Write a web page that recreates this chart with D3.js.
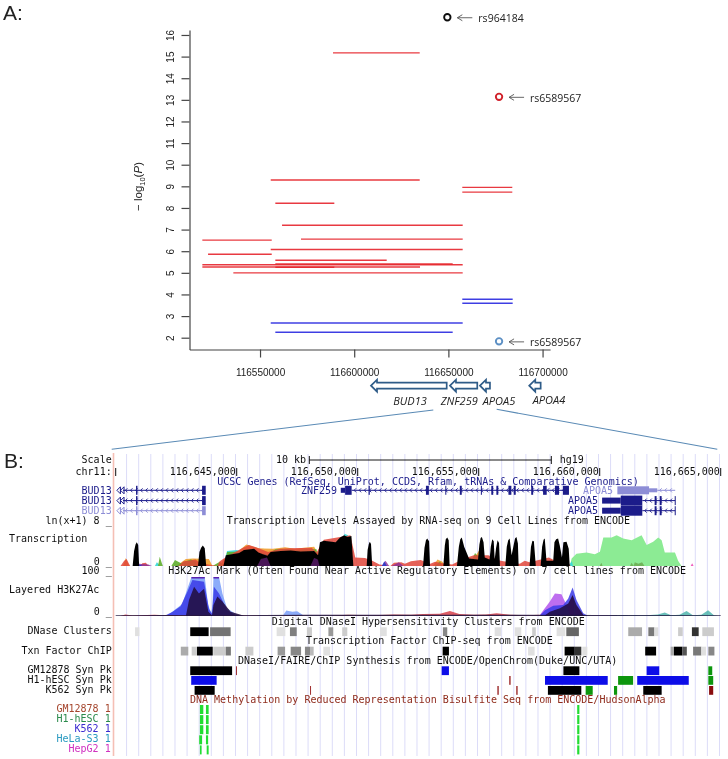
<!doctype html>
<html lang="en">
<head>
<meta charset="utf-8">
<title>rs964184 regional association and ENCODE tracks</title>
<style>
    html, body { margin: 0; background: #fff; }
    svg { display: block; }
    .ucsc text, text.ucsc { font-family: "DejaVu Sans Mono", monospace; font-size: 10px; }
    .note { font-family: "Open Sans", sans-serif; font-size: 10.5px; fill: #222; }
    .axisA text { font-family: "Liberation Sans", sans-serif; font-size: 10px; fill: #222; }
    .axisA path, .axisA line { stroke: #444; stroke-width: 1.2; }
</style>
</head>
<body>
<svg id="chart" width="728" height="759"></svg>
<script src="https://cdn.jsdelivr.net/npm/d3@7"></script>
<script>
// ---- panel A: conditional association segments [start, end, -log10 P]
const redSegments = [
    [116588750, 116634770, 15.17], [116555680, 116634770, 9.29], [116558120, 116589440, 8.22],
    [116657380, 116683920, 8.95], [116657380, 116683920, 8.73], [116561680, 116657590, 7.2],
    [116519370, 116556210, 6.51], [116571760, 116657590, 6.56], [116555680, 116657590, 6.08],
    [116522400, 116556210, 5.86], [116558120, 116617250, 5.58], [116558120, 116652280, 5.41],
    [116519370, 116657590, 5.37], [116519370, 116634930, 5.27], [116558120, 116589440, 5.26],
    [116535830, 116657590, 5.0]
];
const blueSegments = [
    [116657380, 116684130, 3.78], [116657380, 116684130, 3.59],
    [116555680, 116657590, 2.68], [116558120, 116652280, 2.25]
];
const snpNames = ["rs964184", "rs6589567", "rs6589567"];
const snpPos = [116649440, 116676900, 116676900];
const snpLogP = [16.82, 13.14, 1.83];
const snpKind = ["lead", "red", "blue"];
const logPTicks = [2, 3, 4, 5, 6, 7, 8, 9, 10, 11, 12, 13, 14, 15, 16];
const posTicksA = [116550000, 116600000, 116650000, 116700000];
const geneNames = ["BUD13", "ZNF259", "APOA5", "APOA4"];
const geneStart = [116608920, 116650850, 116666780, 116692940];
const geneEnd = [116649100, 116665340, 116672080, 116698990];
const geneLabelPos = [116629620, 116655790, 116676860, 116703400];
const zoomFrom = [116641990, 116675640];

// ---- panel B: everything below is in kb past chr11:116,640,000
const browserTicks = [5, 10, 15, 20, 25];

// genes [start, end] in kb
const bud13Exons = [[0.84, 0.9], [3.57, 3.72]];
const znfUtr = [9.3, 9.48];
const znfCds = [9.48, 9.75];
const znfExons = [[10.45, 10.5], [12.82, 12.94], [13.62, 13.66], [14.22, 14.3], [15.09, 15.13], [15.52, 15.6],
    [15.73, 15.81], [16.23, 16.35], [16.45, 16.53], [17.17, 17.25], [17.66, 17.81], [18.15, 18.32], [18.48, 18.73]];
const apoaUtr = [20.1, 20.87];
const apoaCds = [20.87, 21.76];
const apoaExons = [[22.27, 22.35], [22.48, 22.56], [23.1, 23.14]];
const apoaPaleThick = [20.73, 22.04];
const apoaPaleMid = [22.04, 22.38];

// RNA-seq signal [kb, ln(x+1)]
const txBlack = [[0.7, 0], [0.76, 2.8], [0.82, 4.0], [0.87, 4.4], [0.93, 3.9], [0.97, 0], [3.4, 0], [3.46, 2.6], [3.53, 3.4], [3.6, 3.8], [3.68, 3.3], [3.74, 0],
    [4.45, 0], [4.55, 2.0], [5.1, 2.4], [5.3, 3.0], [5.72, 3.2], [5.9, 2.5], [6.27, 1.9], [6.4, 2.6], [6.82, 2.8], [7.23, 2.9], [7.64, 2.7], [8.2, 2.8], [8.36, 2.0],
    [8.44, 4.4], [8.6, 4.7], [9.09, 4.4], [9.27, 5.3], [9.44, 5.7], [9.57, 5.4], [9.74, 5.6], [9.82, 0],
    [10.37, 0], [10.41, 3.0], [10.46, 4.1], [10.5, 4.5], [10.55, 4.1], [10.6, 0],
    [12.7, 0], [12.76, 3.4], [12.82, 4.8], [12.87, 5.1], [12.95, 4.6], [12.99, 0], [13.54, 0], [13.6, 3.8], [13.64, 5.0], [13.7, 5.3], [13.76, 4.8], [13.8, 0],
    [14.1, 0], [14.18, 3.6], [14.24, 5.0], [14.3, 5.3], [14.4, 3.6], [14.6, 1.4], [14.97, 1.2], [15.03, 4.0], [15.08, 5.2], [15.13, 5.4], [15.2, 4.4], [15.25, 1.6],
    [15.45, 1.2], [15.5, 3.6], [15.56, 5.0], [15.62, 4.6], [15.66, 1.2], [15.72, 3.4], [15.78, 4.8], [15.84, 4.3], [15.88, 0],
    [16.1, 0], [16.16, 3.6], [16.22, 4.8], [16.28, 5.1], [16.36, 2.0], [16.44, 3.8], [16.5, 5.1], [16.56, 5.4], [16.62, 4.2], [16.65, 0],
    [17.1, 0], [17.16, 3.6], [17.22, 4.7], [17.28, 4.6], [17.36, 0], [17.56, 0], [17.62, 3.6], [17.68, 4.9], [17.73, 5.1], [17.8, 1.0], [18.08, 1.0], [18.13, 4.4], [18.2, 5.0], [18.28, 5.1], [18.35, 3.8],
    [18.44, 1.6], [18.5, 4.4], [18.63, 4.5], [18.72, 3.2], [18.76, 0]];
const txRed = [[0.2, 0], [0.35, 1.0], [0.45, 1.3], [0.55, 0.4], [0.6, 0], [1.0, 0], [1.1, 0.5], [1.25, 0.6], [1.3, 0.3], [1.4, 0],
    [2.6, 0], [2.8, 0.9], [3.0, 1.0], [3.3, 1.2], [3.5, 0.5], [4.2, 0], [4.3, 0.9], [4.5, 1.5], [4.9, 2.5], [5.3, 3.5], [5.5, 3.9], [5.8, 3.5], [6.3, 2.6], [6.8, 3.2],
    [7.2, 3.3], [8.1, 3.4], [8.3, 2.5], [8.6, 4.9], [9.7, 5.7], [9.9, 1.6], [10.3, 1.5], [10.6, 1.0], [10.9, 0.3], [11.35, 0], [11.5, 0.6], [11.8, 0.7], [11.95, 0.4],
    [12.2, 0.9], [12.6, 1.1], [13.0, 0.4], [13.2, 0.8], [13.5, 0.5], [13.9, 0.3], [14.4, 1.4], [14.8, 2.0], [15.4, 2.0], [15.9, 1], [16.7, 0.4], [16.9, 1.0], [17.1, 0.7],
    [17.9, 1.6], [18.1, 1.1], [18.76, 0.3], [18.8, 0]];
const txOrange = [[0.3, 0], [0.42, 1.5], [0.55, 0], [2.5, 0], [2.9, 1.3], [3.2, 1.4], [3.85, 1.3], [4.0, 0], [4.3, 0], [4.45, 1.2], [5.0, 2.5], [5.4, 4.0], [5.9, 3.3],
    [6.5, 3.2], [7.0, 3.5], [7.4, 3.2], [8.2, 3.6], [8.4, 2], [8.5, 0], [13.1, 0], [13.3, 1.2], [13.5, 0.8], [13.6, 0], [14.6, 0], [15.0, 2.8], [15.2, 2.2], [15.4, 0],
    [17.85, 0], [18.0, 1.4], [18.1, 0]];
const txGreen = [[1.75, 0], [1.82, 1.7], [1.9, 0.6], [1.95, 0], [2.3, 0], [2.45, 1.1], [2.7, 0.5], [3.1, 1.2], [3.3, 0.9], [3.4, 0], [4.0, 0], [4.3, 0.8], [4.5, 0],
    [4.6, 2.6], [5.2, 2.7], [6.3, 2.2], [6.6, 3.1], [7.1, 3.1], [7.4, 3.0], [7.9, 3.1], [8.3, 3.1], [8.4, 0], [13.2, 0], [13.4, 0.9], [13.5, 0], [14.6, 0], [14.85, 2.4], [15.0, 1.6], [15.1, 0]];
const txCyan = [[1.62, 0], [1.7, 0.7], [1.8, 0.3], [1.85, 0], [4.45, 0], [4.6, 2.8], [5.0, 3.0], [5.2, 2.7], [5.3, 0], [9.2, 0], [9.45, 6.0], [9.6, 5.7], [9.75, 0], [18.7, 0], [18.85, 0.9], [18.9, 0]];
const txBlue = [[0.9, 0], [1.0, 0.3], [1.1, 0], [6.0, 0], [6.2, 2.2], [6.4, 0], [11.0, 0], [11.1, 0.9], [11.2, 0], [12.7, 0], [12.74, 0.5], [12.85, 0]];
const txPurple = [[0.75, 0], [0.95, 0.4], [1.35, 0.3], [1.5, 0], [6.9, 0], [7.1, 1.5], [7.7, 2], [8.2, 1.5], [8.4, 0], [11.0, 0], [11.15, 1.0], [11.3, 0], [11.4, 0], [11.7, 0.7], [11.9, 0]];
const txStreaks = [[5.85, 0], [6.0, 1.3], [6.25, 1.6], [6.4, 0], [8.05, 0], [8.2, 1.5], [8.35, 1.2], [8.42, 0]];
const txMint = [[18.77, 0], [18.84, 1.4], [19.04, 2.3], [19.46, 2.5], [19.8, 2.2], [20.01, 2.65], [20.15, 5.3], [20.49, 5.3], [20.7, 5.7], [20.97, 5.1], [21.32, 4.8],
    [21.73, 5.7], [21.94, 3.9], [22.21, 4.5], [22.42, 5.3], [22.56, 4.8], [22.69, 2.5], [23.11, 2.5], [23.24, 1.0], [23.38, 0]];
const txMintDark = [[20.0, 0], [20.07, 0.6], [20.12, 0], [21.25, 0], [21.32, 0.6], [21.4, 0], [21.45, 0.7], [21.6, 0.4], [21.75, 0.7], [21.85, 0]];
const txPink = [[23.76, 0], [23.82, 0.5], [23.88, 0]];

// H3K27Ac signal [kb, value], clipped at 100
const h3Light = [[2.1, 0], [2.27, 8], [2.75, 31], [2.99, 75], [3.13, 120], [3.68, 120], [3.82, 28], [3.95, 8], [4.0, 30], [4.04, 120], [4.27, 120], [4.41, 58], [4.6, 20], [4.96, 5], [5.2, 0],
    [6.9, 0], [7.05, 14], [7.3, 11], [7.5, 12], [7.8, 0]];
const h3Blue = [[2.0, 0], [2.34, 10], [2.68, 25], [2.96, 62], [3.17, 92], [3.65, 88], [3.86, 17], [3.98, 6], [4.06, 75], [4.27, 58], [4.6, 15], [5.0, 0],
    [17.5, 0], [17.74, 15], [18.08, 26], [18.49, 28], [18.7, 45], [18.88, 73], [19.04, 41], [19.32, 7], [19.53, 0]];
const h3Purple = [[17.5, 0], [17.67, 15], [17.94, 37], [18.15, 58], [18.42, 56], [18.63, 28], [18.77, 3], [18.85, 0]];
const h3Dark = [[2.9, 0], [3.03, 41], [3.24, 75], [3.44, 58], [3.65, 70], [3.83, 11], [3.98, 2], [4.04, 28], [4.2, 50], [4.41, 37], [4.75, 11], [5.17, 3], [5.3, 0],
    [17.7, 0], [17.94, 11], [18.36, 20], [18.7, 32], [18.88, 54], [19.04, 28], [19.32, 3], [19.4, 0]];
const h3Red = [[0.2, 0], [0.4, 4], [0.7, 1], [1.6, 3], [2.0, 2], [8.9, 1], [9.6, 3], [10.6, 2], [11.5, 4], [12.2, 3], [12.7, 5], [13.4, 6], [13.81, 13], [14.2, 5], [14.8, 3], [15.3, 4], [15.74, 7], [16.3, 3], [17.0, 2], [17.5, 3], [17.6, 0]];
const h3Bumps = [[20.2, 0], [21.0, 2], [21.8, 1], [22.4, 4], [22.69, 9], [22.95, 2], [23.3, 3], [23.59, 13], [23.85, 2], [24.2, 3], [24.48, 15], [24.72, 2], [24.9, 0]];
const h3Base = [[0, 2], [2, 2.5], [4, 2], [8, 3], [12, 3], [16, 3], [20, 2.5], [25, 2]];
const h3Clipped = [[3.13, 3.68], [4.04, 4.27]];

// density tracks [start, end, score 0..1]
const dnaseClusters = [[0.8, 0.98, 0.12], [3.08, 3.84, 1], [3.9, 4.75, 0.55], [6.65, 7.01, 0.12], [7.2, 7.48, 0.5], [7.9, 8.11, 0.2], [8.79, 8.99, 0.4], [9.36, 9.57, 0.2],
    [10.92, 11.2, 0.12], [13.52, 13.7, 0.47], [15.66, 15.93, 0.12], [16.49, 16.76, 0.12], [17.21, 17.36, 0.2], [18.22, 18.58, 0.12], [18.62, 19.14, 0.6],
    [21.18, 21.75, 0.33], [22.01, 22.26, 0.53], [22.26, 22.42, 0.13], [23.24, 23.43, 0.2], [23.81, 24.09, 0.8], [24.24, 24.72, 0.2]];
const tfClusters = [[2.69, 3.0, 0.33], [3.14, 3.36, 0.2], [3.36, 4.01, 1], [4.03, 4.55, 0.2], [4.55, 4.76, 0.53], [5.36, 5.69, 0.2], [6.69, 7.0, 0.4], [7.23, 7.66, 0.47],
    [7.82, 8.03, 0.47], [8.03, 8.18, 0.27], [8.58, 8.86, 0.12], [13.51, 13.77, 1], [17.04, 17.31, 0.12], [18.55, 18.97, 1], [18.97, 19.24, 0.8], [19.28, 19.49, 0.12],
    [21.88, 22.33, 1], [22.93, 23.07, 0.33], [23.07, 23.41, 1], [23.41, 23.6, 0.67], [23.86, 24.2, 0.53], [24.2, 24.39, 0.12], [24.49, 24.74, 0.47]];

// synthesis peaks [start, end, kind]
const synGM12878 = [[3.08, 4.81, "open"], [4.97, 5.01, "chip"], [13.47, 13.77, "dnase"], [18.5, 19.16, "open"], [21.94, 22.46, "dnase"], [24.49, 24.65, "faire"]];
const synH1 = [[3.12, 4.17, "dnase"], [16.26, 16.32, "chip"], [17.74, 20.33, "dnase"], [20.76, 21.38, "faire"], [21.55, 23.68, "dnase"], [24.49, 24.69, "faire"]];
const synK562 = [[3.26, 4.09, "open"], [8.03, 8.07, "chip"], [15.77, 15.83, "chip"], [16.55, 16.61, "chip"], [17.86, 19.24, "open"], [19.42, 19.71, "faire"], [20.59, 20.72, "faire"],
    [21.8, 22.56, "open"], [24.52, 24.69, "chipDark"]];

// methylated CpG [start, end] per cell line
const methLines = ["GM12878", "H1-hESC", "K562", "HeLa-S3", "HepG2"];
const methSites = [
    [[3.48, 3.62], [3.73, 3.84], [19.07, 19.16]],
    [[3.48, 3.62], [3.73, 3.84], [19.07, 19.16]],
    [[3.48, 3.62], [3.73, 3.84], [19.07, 19.16]],
    [[3.45, 3.57], [3.73, 3.82], [19.07, 19.16]],
    [[3.48, 3.55], [3.76, 3.84], [19.07, 19.16]]
];

// ---- set up
const svg = d3.select("#chart");
const defs = svg.append("defs");
defs.append("filter").attr("id", "soft")
    .attr("filterUnits", "userSpaceOnUse")
    .attr("x", 0).attr("y", 0).attr("width", 728).attr("height", 759)
    .append("feGaussianBlur").attr("stdDeviation", 0.4);

const root = svg.append("g").attr("filter", "url(#soft)");

root.append("text").attr("x", 3).attr("y", 20).attr("font-family", "Liberation Sans").attr("font-size", 21).attr("fill", "#222").text("A:");
root.append("text").attr("x", 4).attr("y", 468).attr("font-family", "Liberation Sans").attr("font-size", 21).attr("fill", "#222").text("B:");

// ---- panel A
const xA = d3.scaleLinear().domain([116512500, 116704000]).range([189.4, 550.1]);
const yA = d3.scaleLinear().domain([1.454, 16.23]).range([349.5, 30]);

const axisX = root.append("g").attr("class", "axisA").attr("transform", "translate(0,349.5)")
    .call(d3.axisBottom(xA).tickValues(posTicksA).tickFormat(d3.format("d")).tickSize(8).tickSizeOuter(0).tickPadding(11));
axisX.selectAll("text").attr("dy", "0.71em");

const axisY = root.append("g").attr("class", "axisA").attr("transform", "translate(189.5,0)")
    .call(d3.axisLeft(yA).tickValues(logPTicks).tickFormat(d3.format("d")).tickSize(8).tickSizeOuter(0));
axisY.selectAll("text")
    .attr("transform", "rotate(-90)")
    .attr("x", 0).attr("y", -15.5).attr("dy", 0)
    .attr("text-anchor", "middle");

const yLabel = root.append("text")
    .attr("transform", "translate(142,186.5) rotate(-90)")
    .attr("text-anchor", "middle")
    .attr("font-family", "Liberation Sans")
    .attr("font-size", 11.5)
    .attr("fill", "#222");
yLabel.append("tspan").text("\u2212 log");
yLabel.append("tspan").attr("font-size", 7.5).attr("dy", 3).text("10");
yLabel.append("tspan").attr("dy", -3).text("(");
yLabel.append("tspan").attr("font-style", "italic").text("P");
yLabel.append("tspan").text(")");

function drawSegments(rows, color) {
    root.append("g").selectAll("line").data(rows).join("line")
        .attr("x1", d => xA(d[0])).attr("x2", d => xA(d[1]))
        .attr("y1", d => yA(d[2])).attr("y2", d => yA(d[2]))
        .attr("stroke", color).attr("stroke-width", 1.4).attr("stroke-opacity", 0.9);
}
drawSegments(redSegments, "#e6262c");
drawSegments(blueSegments, "#2a2ae0");

const snpColor = d3.scaleOrdinal().domain(["lead", "red", "blue"]).range(["#111", "#d0202a", "#5b8fc4"]);
const snps = snpNames.map((n, i) => ({ name: n, pos: snpPos[i], logP: snpLogP[i], kind: snpKind[i] }));

root.append("g").selectAll("circle").data(snps).join("circle")
    .attr("cx", d => xA(d.pos)).attr("cy", d => yA(d.logP)).attr("r", 3.2)
    .attr("fill", "#fff").attr("stroke", d => snpColor(d.kind)).attr("stroke-width", 1.9);

const snpNote = root.append("g").selectAll("g").data(snps).join("g")
    .attr("transform", d => "translate(" + xA(d.pos) + "," + yA(d.logP) + ")");
snpNote.append("path")
    .attr("d", "M25,0.5H10M15,-2.5L10,0.5L15,3.5")
    .attr("fill", "none").attr("stroke", "#555").attr("stroke-width", 0.9);
snpNote.append("text").attr("class", "note").attr("x", 31).attr("y", 5).text(d => d.name);

// gene arrows below the axis
const genes = geneNames.map((n, i) => ({ name: n, start: geneStart[i], end: geneEnd[i], label: geneLabelPos[i] }));
const arrowY = 385.7;
root.append("g").selectAll("path").data(genes).join("path")
    .attr("d", d => {
        const a = xA(d.start), b = xA(d.end), h = a + 6;
        return "M" + a + "," + arrowY + "L" + h + "," + (arrowY - 6) + "V" + (arrowY - 3) + "H" + b + "V" + (arrowY + 3) + "H" + h + "V" + (arrowY + 6) + "Z";
    })
    .attr("fill", "#fff").attr("stroke", "#2f5b88").attr("stroke-width", 1.7);
root.append("g").selectAll("text").data(genes).join("text")
    .attr("x", d => xA(d.label)).attr("y", d => d.name === "APOA4" ? 404 : 405)
    .attr("text-anchor", "middle")
    .attr("font-family", "Open Sans").attr("font-style", "italic").attr("font-size", 11).attr("fill", "#222")
    .text(d => d.name);

// zoom lines from panel A down to panel B
root.append("path")
    .attr("d", "M" + xA(zoomFrom[0]) + ",410L111.7,449.3M" + xA(zoomFrom[1]) + ",409.3L717.3,449.3")
    .attr("fill", "none").attr("stroke", "#5a8ab5").attr("stroke-width", 1.1);

// ---- panel B
const xB = d3.scaleLinear().domain([0, 25]).range([115.7, 720.7]);
const gridKb = d3.range(0.45, 25, 0.5);
const navy = "#1b1b8a", pale = "#8d8dd6";
const ucsc = root.append("g").attr("class", "ucsc");

ucsc.append("g").selectAll("line").data(gridKb).join("line")
    .attr("x1", d => xB(d)).attr("x2", d => xB(d)).attr("y1", 454).attr("y2", 756)
    .attr("stroke", "#dcdcf8").attr("stroke-width", 1);
ucsc.append("line").attr("x1", 113.5).attr("x2", 113.5).attr("y1", 453).attr("y2", 756)
    .attr("stroke", "#f5bfb5").attr("stroke-width", 1.6);

function label(x, y, s, anchor, color) {
    ucsc.append("text").attr("x", x).attr("y", y).attr("text-anchor", anchor || "start")
        .attr("fill", color || "#111").text(s);
}
const left = 111.7;

// scale row
label(left, 463, "Scale", "end");
label(306, 463, "10 kb", "end");
label(559.7, 463, "hg19");
ucsc.append("path")
    .attr("d", "M" + xB(8) + ",456V464M" + xB(8) + ",460H" + xB(18) + "M" + xB(18) + ",456V464")
    .attr("fill", "none").attr("stroke", "#111").attr("stroke-width", 1);

// position row
label(left, 475, "chr11:", "end");
ucsc.append("line").attr("x1", xB(0)).attr("x2", xB(0)).attr("y1", 468).attr("y2", 476).attr("stroke", "#111");
const posFmt = d3.format(",");
browserTicks.forEach(kb => {
    label(xB(kb) - 0.8, 475, posFmt(116640000 + kb * 1000), "end");
    ucsc.append("line").attr("x1", xB(kb)).attr("x2", xB(kb)).attr("y1", 468).attr("y2", 476).attr("stroke", "#111");
});

// track titles
label(217.3, 485, "UCSC Genes (RefSeq, UniProt, CCDS, Rfam, tRNAs & Comparative Genomics)", "start", navy);
label(226.7, 523.5, "Transcription Levels Assayed by RNA-seq on 9 Cell Lines from ENCODE");
label(168.3, 574, "H3K27Ac Mark (Often Found Near Active Regulatory Elements) on 7 cell lines from ENCODE");
label(271.7, 625, "Digital DNaseI Hypersensitivity Clusters from ENCODE");
label(306, 644.3, "Transcription Factor ChIP-seq from ENCODE");
label(238, 663.7, "DNaseI/FAIRE/ChIP Synthesis from ENCODE/OpenChrom(Duke/UNC/UTA)");
label(190, 703.3, "DNA Methylation by Reduced Representation Bisulfite Seq from ENCODE/HudsonAlpha", "start", "#8f2b1c");

// side labels
label(left, 523.5, "ln(x+1) 8 _", "end");
label(9, 541.7, "Transcription");
label(left, 565, "0 _", "end");
label(left, 574, "100 _", "end");
label(9, 593, "Layered H3K27Ac");
label(left, 615, "0 _", "end");
label(left, 634, "DNase Clusters", "end");
label(left, 653.7, "Txn Factor ChIP", "end");
label(left, 673, "GM12878 Syn Pk", "end");
label(left, 683, "H1-hESC Syn Pk", "end");
label(left, 693, "K562 Syn Pk", "end");

// genes
function block(kb, y, h, color) {
    ucsc.append("rect").attr("x", xB(kb[0])).attr("width", Math.max(1, xB(kb[1]) - xB(kb[0])))
        .attr("y", y - h / 2).attr("height", h).attr("fill", color);
}
function intron(from, to, y, color) {
    ucsc.append("line").attr("x1", xB(from)).attr("x2", xB(to)).attr("y1", y).attr("y2", y).attr("stroke", color).attr("stroke-width", 1);
    ucsc.append("path")
        .attr("d", d3.range(from + 0.1, to - 0.05, 0.21).map(k => "M" + (xB(k) + 2) + "," + (y - 2) + "L" + xB(k) + "," + y + "L" + (xB(k) + 2) + "," + (y + 2)).join(""))
        .attr("fill", "none").attr("stroke", color).attr("stroke-width", 0.9);
}
const rowsY = [490.3, 500.6, 510.7];
[navy, navy, pale].forEach((c, i) => {
    const y = rowsY[i];
    label(left, y + 3.5, "BUD13", "end", c);
    intron(0.3, 3.6, y, c);
    ucsc.append("path")
        .attr("d", [0.05, 0.2].map(k => "M" + (xB(k) + 3.5) + "," + (y - 3.5) + "L" + xB(k) + "," + y + "L" + (xB(k) + 3.5) + "," + (y + 3.5) + "Z").join(""))
        .attr("fill", "none").attr("stroke", c).attr("stroke-width", 1);
    block(bud13Exons[0], y, 9, c);
    block(bud13Exons[1], y, 9, c);
});

label(337, 493.8, "ZNF259", "end", navy);
intron(znfCds[1], 18.7, 490.3, navy);
block(znfUtr, 490.3, 5, navy);
block(znfCds, 490.3, 9, navy);
znfExons.forEach(e => block(e, 490.3, 9, navy));

label(613, 493.8, "APOA5", "end", pale);
intron(apoaPaleMid[1], 23.12, 490.3, pale);
block(apoaPaleThick, 490.3, 8, pale);
block(apoaPaleMid, 490.3, 4, pale);
[rowsY[1], rowsY[2]].forEach(y => {
    label(598, y + 3.5, "APOA5", "end", navy);
    intron(apoaCds[1], 23.12, y, navy);
    block(apoaUtr, y, 6, navy);
    block(apoaCds, y, 10, navy);
    apoaExons.forEach(e => block(e, y, 9, navy));
});

// RNA-seq layers
const yTx = d3.scaleLinear().domain([0, 8]).range([566, 523]);
const txArea = d3.area().x(d => xB(d[0])).y0(yTx(0)).y1(d => yTx(d[1]));
[[txMint, "#8ceb94", 1], [txMintDark, "#6fb45a", 1], [txPink, "#f060c0", 1], [txCyan, "#35d8d8", 0.9], [txOrange, "#f0a030", 0.9], [txGreen, "#5fae2e", 0.9],
    [txRed, "#e0453a", 0.85], [txPurple, "#8a2f9a", 0.8], [txBlue, "#2a3ac8", 0.9], [txBlack, "#050505", 1], [txStreaks, "#5a1a6a", 0.8]].forEach(s => {
    ucsc.append("path").datum(s[0]).attr("d", txArea).attr("fill", s[1]).attr("fill-opacity", s[2]);
});

// H3K27Ac layers
const yH3 = d3.scaleLinear().domain([0, 100]).range([616, 577]).clamp(true);
const h3Area = d3.area().x(d => xB(d[0])).y0(yH3(0)).y1(d => yH3(d[1]));
[[h3Light, "#86a8fa", 0.95], [h3Purple, "#bb66ee", 0.95], [h3Blue, "#3a3ae6", 0.85], [h3Bumps, "#45b0a8", 0.8], [h3Red, "#d8404a", 0.85], [h3Dark, "#220a3a", 0.85], [h3Base, "#241a40", 0.9]].forEach(s => {
    ucsc.append("path").datum(s[0]).attr("d", h3Area).attr("fill", s[1]).attr("fill-opacity", s[2]);
});
ucsc.append("g").selectAll("rect").data(h3Clipped).join("rect")
    .attr("x", d => xB(d[0])).attr("width", d => xB(d[1]) - xB(d[0]))
    .attr("y", yH3(100)).attr("height", 1.5).attr("fill", "#5a20b0");

// density and peak rows
const gray = d3.scaleLinear().domain([0, 1]).range(["#ffffff", "#000000"]);
function densityRow(rows, y) {
    ucsc.append("g").selectAll("rect").data(rows).join("rect")
        .attr("x", d => xB(d[0])).attr("width", d => xB(d[1]) - xB(d[0]))
        .attr("y", y).attr("height", 8.8).attr("fill", d => gray(d[2]));
}
densityRow(dnaseClusters, 627.3);
densityRow(tfClusters, 646.7);

const synColor = d3.scaleOrdinal().domain(["open", "dnase", "faire", "chip", "chipDark"])
    .range(["#000000", "#0a0ae8", "#0a960a", "#a03030", "#8a1010"]);
function synRow(rows, y) {
    ucsc.append("g").selectAll("rect").data(rows).join("rect")
        .attr("x", d => xB(d[0])).attr("width", d => Math.max(1, xB(d[1]) - xB(d[0])))
        .attr("y", y).attr("height", 8.8).attr("fill", d => synColor(d[2]));
}
synRow(synGM12878, 666.3);
synRow(synH1, 676);
synRow(synK562, 686);

// methylation rows
const methColor = ["#a5452d", "#2b8a4c", "#3a2ad0", "#2a9ac0", "#d030c0"];
methLines.forEach((name, i) => {
    const y = 712 + i * 10.1;
    label(left - 1, y, name + " 1", "end", methColor[i]);
    ucsc.append("g").selectAll("rect").data(methSites[i]).join("rect")
        .attr("x", d => xB(d[0])).attr("width", d => xB(d[1]) - xB(d[0]))
        .attr("y", y - 7).attr("height", 9).attr("fill", "#22dd33");
});
</script>
</body>
</html>
